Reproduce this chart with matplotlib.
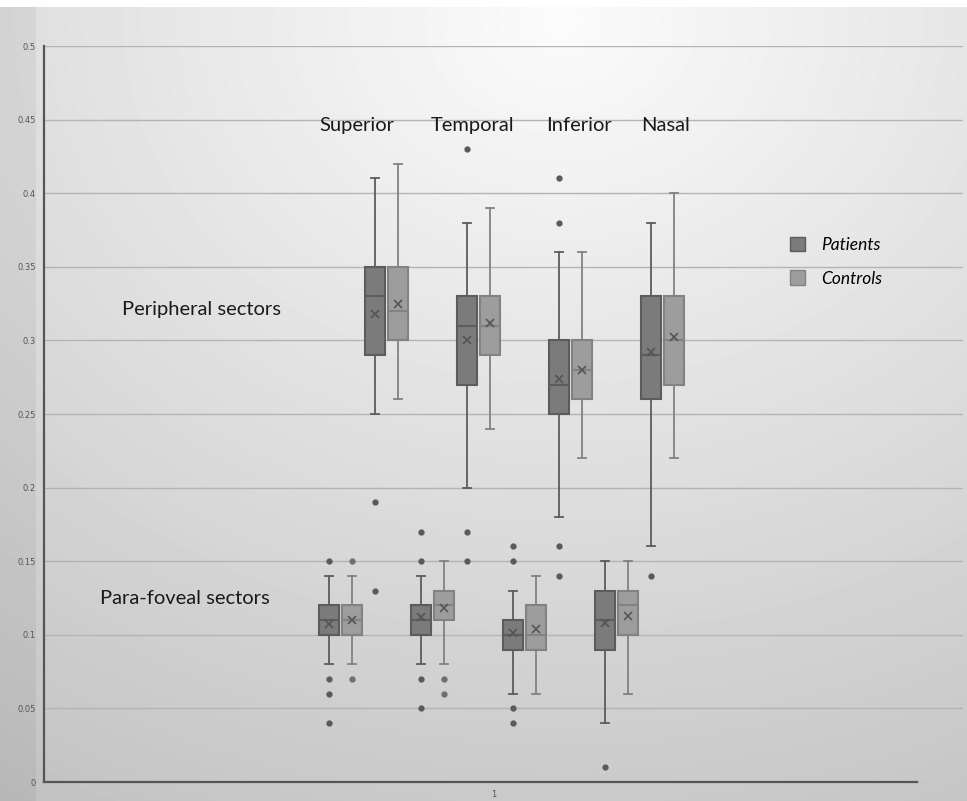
import matplotlib
matplotlib.use("Agg")
import matplotlib.pyplot as plt
import numpy as np
from matplotlib.patches import Patch

sectors = ["Superior", "Temporal", "Inferior", "Nasal"]
groups = ["Patients", "Controls"]

# stats per sector: (whislo, q1, med, q3, whishi, mean, fliers)
peri_patients = [
    (0.25, 0.29, 0.33, 0.35, 0.41, 0.318, [0.19, 0.13]),
    (0.20, 0.27, 0.31, 0.33, 0.38, 0.300, [0.43, 0.17, 0.15]),
    (0.18, 0.25, 0.27, 0.30, 0.36, 0.274, [0.41, 0.38, 0.16, 0.14]),
    (0.16, 0.26, 0.29, 0.33, 0.38, 0.292, [0.14]),
]
peri_controls = [
    (0.26, 0.30, 0.32, 0.35, 0.42, 0.325, []),
    (0.24, 0.29, 0.31, 0.33, 0.39, 0.312, []),
    (0.22, 0.26, 0.28, 0.30, 0.36, 0.280, []),
    (0.22, 0.27, 0.30, 0.33, 0.40, 0.302, []),
]
para_patients = [
    (0.08, 0.10, 0.11, 0.12, 0.14, 0.107, [0.15, 0.07, 0.06, 0.04]),
    (0.08, 0.10, 0.11, 0.12, 0.14, 0.112, [0.17, 0.15, 0.07, 0.05]),
    (0.06, 0.09, 0.10, 0.11, 0.13, 0.101, [0.16, 0.15, 0.05, 0.04]),
    (0.04, 0.09, 0.11, 0.13, 0.15, 0.108, [0.01]),
]
para_controls = [
    (0.08, 0.10, 0.11, 0.12, 0.14, 0.110, [0.15, 0.07]),
    (0.08, 0.11, 0.12, 0.13, 0.15, 0.118, [0.07, 0.06]),
    (0.06, 0.09, 0.10, 0.12, 0.14, 0.104, []),
    (0.06, 0.10, 0.12, 0.13, 0.15, 0.113, []),
]

W, H = 967, 801
fig = plt.figure(figsize=(W / 100, H / 100), dpi=100)

# background gradient
bg = fig.add_axes([0, 0, 1, 1], zorder=-10)
yy, xx = np.mgrid[0:H, 0:W]
d = np.sqrt(((xx - 560) / W) ** 2 + ((yy - 20) / H) ** 2)
img = 0.985 - 0.20 * d
img[:, :36] -= 0.04
img[:7, :] = 1.0
bg.imshow(img, cmap="gray", vmin=0, vmax=1, aspect="auto", extent=[0, W, H, 0])
bg.axis("off")

ax = fig.add_axes([44 / W, 19 / H, 919 / W, 736 / H])
ax.patch.set_alpha(0)

def to_stats(rows):
    out = []
    for lo, q1, med, q3, hi, mean, fl in rows:
        out.append(dict(whislo=lo, q1=q1, med=med, q3=q3, whishi=hi,
                        mean=mean, fliers=fl))
    return out

styles = {
    "Patients": dict(fc="#7b7b7b", ec="#5c5c5c", fl="#5a5a5a"),
    "Controls": dict(fc="#9d9d9d", ec="#828282", fl="#6e6e6e"),
}

base = 296.5
step = 92
half = 11.5
boxw = 20

sets = [
    (para_patients, "Patients", 0, -half),
    (para_controls, "Controls", 0, half),
    (peri_patients, "Patients", 46, -half),
    (peri_controls, "Controls", 46, half),
]
for rows, g, shift, off in sets:
    st = styles[g]
    pos = [base + shift + i * step + off for i in range(len(rows))]
    ax.bxp(to_stats(rows), positions=pos, widths=boxw, capwidths=8,
           showmeans=True, patch_artist=True, manage_ticks=False,
           boxprops=dict(facecolor=st["fc"], edgecolor=st["ec"], lw=1.5),
           medianprops=dict(color=st["ec"], lw=1.5),
           whiskerprops=dict(color=st["ec"], lw=1.3),
           capprops=dict(color=st["ec"], lw=1.3),
           meanprops=dict(marker="x", markeredgecolor="#555555",
                          markersize=6, markeredgewidth=1.2),
           flierprops=dict(marker="o", markerfacecolor=st["fl"],
                           markeredgecolor=st["fl"], markersize=3.5))

ax.set_xlim(0, 919)
ax.set_ylim(0, 0.5)
ax.set_yticks(np.arange(0, 0.51, 0.05))
ax.set_yticklabels(["0", "0.05", "0.1", "0.15", "0.2", "0.25", "0.3",
                    "0.35", "0.4", "0.45", "0.5"])
ax.set_xticks([450])
ax.set_xticklabels(["1"])
ax.tick_params(axis="both", length=0, labelsize=6, colors="#555555", pad=6)
ax.grid(axis="y", color="#b4b4b4", lw=1.0)
ax.set_axisbelow(True)
for s in ["top", "right"]:
    ax.spines[s].set_visible(False)
for s in ["left", "bottom"]:
    ax.spines[s].set_color("#555555")
    ax.spines[s].set_linewidth(1.6)
ax.spines["bottom"].set_bounds(0, 873)

font = "Lato"
label_x = [313, 429, 535, 622]
for name, x in zip(sectors, label_x):
    ax.text(x, 0.446, name, ha="center", va="center",
            fontsize=14.5, family=font, color="#1a1a1a")
ax.text(157.5, 0.321, "Peripheral sectors", ha="center", va="center",
        fontsize=14.5, family=font, color="#1a1a1a")
ax.text(141, 0.125, "Para-foveal sectors", ha="center", va="center",
        fontsize=14.5, family=font, color="#1a1a1a")

handles = [Patch(facecolor=styles[g]["fc"], edgecolor=styles[g]["ec"])
           for g in groups]
ax.legend(handles, groups, loc="center left", bbox_to_anchor=(730 / 919, 0.707),
          frameon=False, prop=dict(family=font, size=12.5, style="italic"),
          handlelength=0.9, handleheight=0.9, labelspacing=1.0,
          handletextpad=0.9)

fig.savefig("out.png", dpi=100)
